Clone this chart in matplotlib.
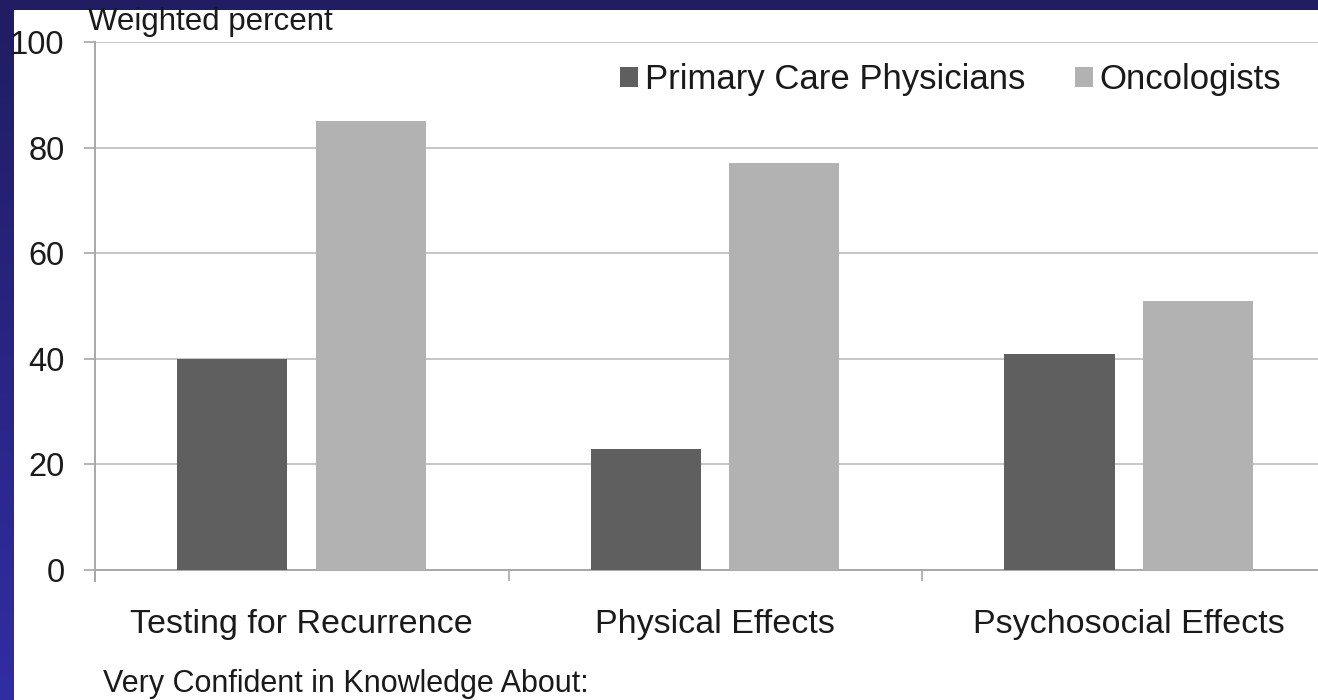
import numpy as np
from matplotlib import pyplot
from matplotlib.patches import Patch, Rectangle

categories = ["Testing for Recurrence", "Physical Effects", "Psychosocial Effects"]
primary_care = [40, 23, 41]
oncologists = [85, 77, 51]
series_names = ["Primary Care Physicians", "Oncologists"]
y_ticks = [0, 20, 40, 60, 80, 100]

DARK = "#5f5f5f"
LIGHT = "#b2b2b2"
GRID = "#c6c6c6"
AXIS = "#a8a8a8"
TEXT = "#1a1a1a"

pyplot.rcParams["font.family"] = ["Liberation Sans", "DejaVu Sans"]

figure = pyplot.figure(figsize=(13.18, 7), dpi=100)

# slide background: navy gradient with a white panel on top
background = figure.add_axes([0, 0, 1, 1], zorder=-10)
gradient = np.linspace(0, 1, 256).reshape(-1, 1)
top = np.array([0x20, 0x1d, 0x62]) / 255
bottom = np.array([0x31, 0x2d, 0xa3]) / 255
colors = top + (bottom - top) * gradient[..., None]
background.imshow(colors, aspect="auto", extent=[0, 1, 0, 1], origin="upper")
background.add_patch(Rectangle((14 / 1318, 0), 1, 1 - 10 / 700, transform=background.transAxes,
                               facecolor="white", edgecolor="none"))
background.set_xlim(0, 1)
background.set_ylim(0, 1)
background.axis("off")

axis = figure.add_axes([95 / 1318, 130 / 700, 1 - 95 / 1318, 528 / 700])
axis.set_facecolor("none")

x = np.arange(len(categories))
width = 0.266
axis.bar(x - 0.168, primary_care, width, color=DARK, zorder=3)
axis.bar(x + 0.167, oncologists, width, color=LIGHT, zorder=3)

axis.set_ylim(0, 100)
axis.set_xlim(-0.5, 2.457)
axis.set_yticks(y_ticks)
axis.set_yticklabels([str(v) for v in y_ticks], fontsize=23.5, color=TEXT)
axis.yaxis.grid(True, color=GRID, linewidth=1.4, zorder=0)
axis.set_axisbelow(True)

axis.set_xticks([-0.5, 0.5, 1.5])
axis.set_xticklabels([])
axis.set_xticks(x, minor=True)
axis.set_xticklabels(categories, minor=True, fontsize=24.5, color=TEXT)
axis.tick_params(axis="x", which="minor", length=0, pad=28)
axis.tick_params(axis="x", which="major", length=8, color=AXIS, width=1.2)
axis.tick_params(axis="y", length=8, color=AXIS, width=1.2, pad=14)

for side in ["top", "right"]:
    axis.spines[side].set_visible(False)
axis.spines["left"].set_color(AXIS)
axis.spines["bottom"].set_color(AXIS)
axis.spines["left"].set_linewidth(1.4)
axis.spines["bottom"].set_linewidth(1.4)
axis.spines["left"].set_bounds(-2, 100)

handles = [Patch(facecolor=DARK), Patch(facecolor=LIGHT)]
figure.legend(handles, series_names, loc="center left", bbox_to_anchor=(589 / 1318, 1 - 80 / 700),
              ncol=2, frameon=False, fontsize=25, handlelength=0.5, handleheight=0.5,
              handletextpad=0.2, columnspacing=1.45, labelcolor=TEXT)

figure.text(88 / 1318, 1 - 22 / 700, "Weighted percent", fontsize=22.5, color=TEXT, va="center")
figure.text(103 / 1318, 1 - 684 / 700, "Very Confident in Knowledge About:", fontsize=22,
            color=TEXT, va="center")

figure.savefig("out.png", dpi=100)
